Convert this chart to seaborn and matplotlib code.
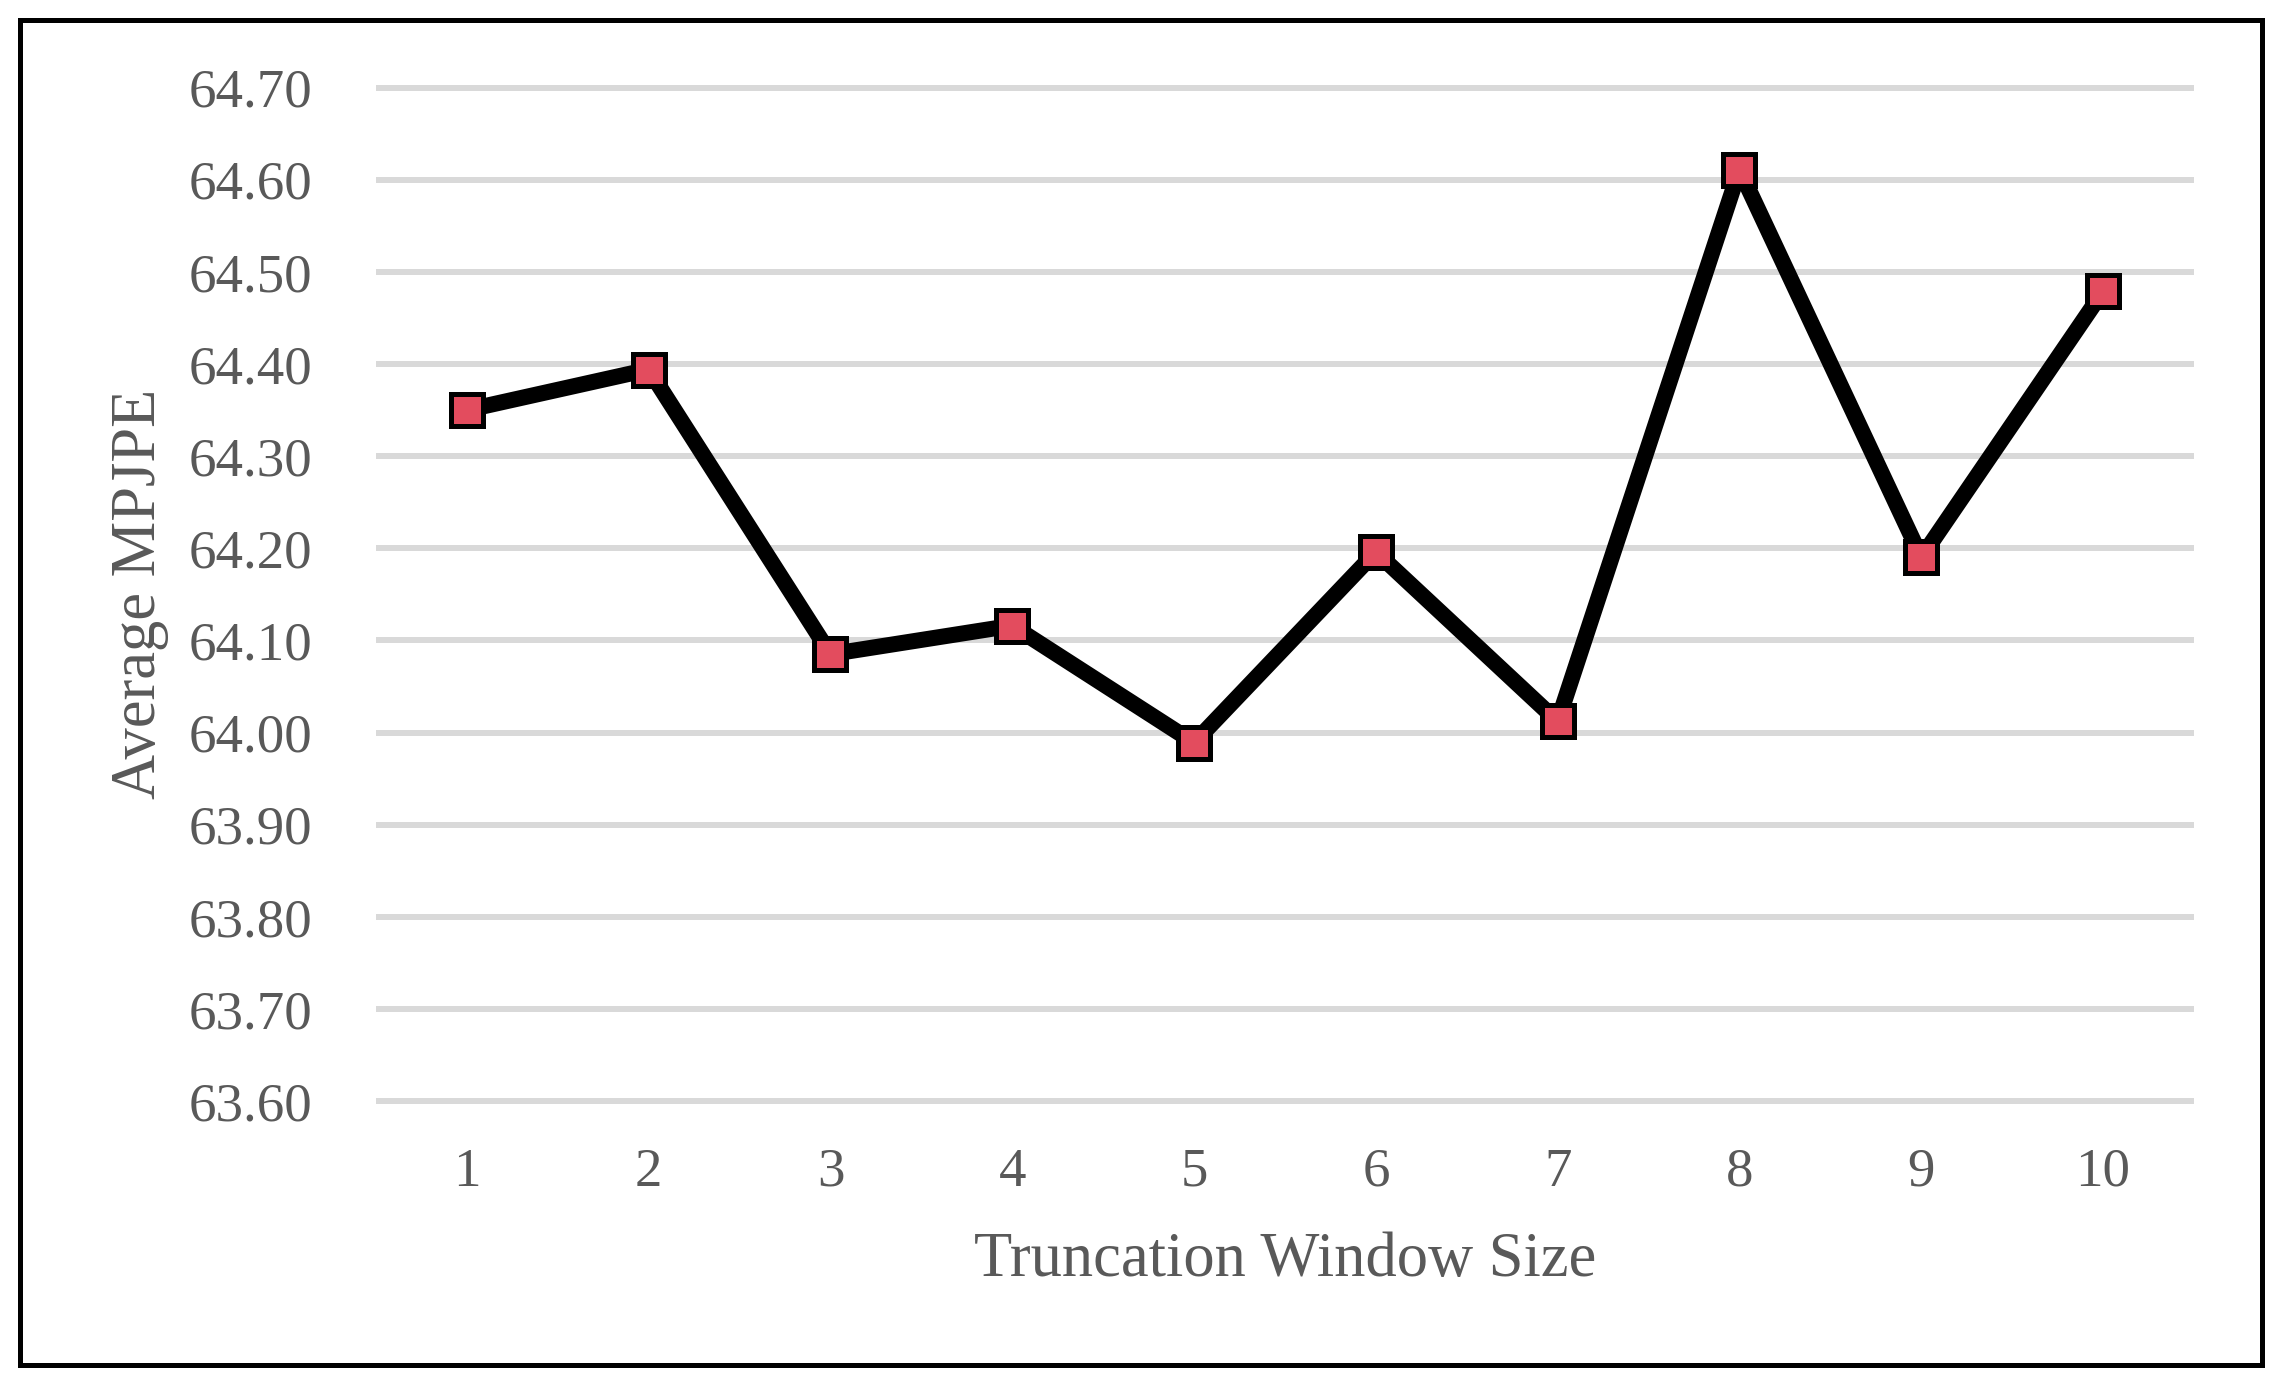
import matplotlib
matplotlib.use("Agg")
import matplotlib.pyplot as plt
from matplotlib.patches import Rectangle
import seaborn as sns

# data
window_sizes = [1, 2, 3, 4, 5, 6, 7, 8, 9, 10]
mpjpe = [64.35, 64.394, 64.085, 64.116, 63.989, 64.196, 64.012, 64.611, 64.190, 64.479]
y_ticks = [63.60, 63.70, 63.80, 63.90, 64.00, 64.10, 64.20, 64.30, 64.40, 64.50, 64.60, 64.70]

sns.set_theme(style="white")
plt.rcParams['font.family'] = ['Liberation Serif', 'DejaVu Serif']

text_grey = '#595959'

fig = plt.figure(figsize=(22.84, 13.86), dpi=100)
ax = fig.add_axes([0.1646, 0.2003, 0.9606 - 0.1646, 0.9421 - 0.2003])

sns.lineplot(x=window_sizes, y=mpjpe, ax=ax, color='black', linewidth=11.5,
             marker='s', markersize=23, markerfacecolor='#e34c5e',
             markeredgecolor='black', markeredgewidth=3.6, zorder=3)

ax.set_xlim(0.5, 10.5)
ax.set_ylim(63.592, 64.708)
ax.set_xticks(window_sizes)
ax.set_yticks(y_ticks)
ax.set_yticklabels([f"{v:.2f}" for v in y_ticks])

ax.yaxis.grid(True, color='#d9d9d9', linewidth=4.3)
ax.xaxis.grid(False)
ax.set_axisbelow(True)
for s in ax.spines.values():
    s.set_visible(False)

ax.tick_params(axis='y', length=0, pad=46, labelsize=39.5, labelcolor=text_grey)
ax.tick_params(axis='x', length=0, pad=28, labelsize=39.5, labelcolor=text_grey)

ax.set_xlabel('Truncation Window Size', fontsize=45, color=text_grey, labelpad=25)
ax.set_ylabel('Average MPJPE', fontsize=45, color=text_grey, labelpad=14)

# chart frame
fig.patches.append(Rectangle((20.5 / 2284, 1 - 1364.5 / 1386),
                             (2261.5 - 20.5) / 2284, (1364.5 - 19.5) / 1386,
                             transform=fig.transFigure, fill=False,
                             edgecolor='black', linewidth=3.6))

fig.savefig('out.png', dpi=100, facecolor='white')
